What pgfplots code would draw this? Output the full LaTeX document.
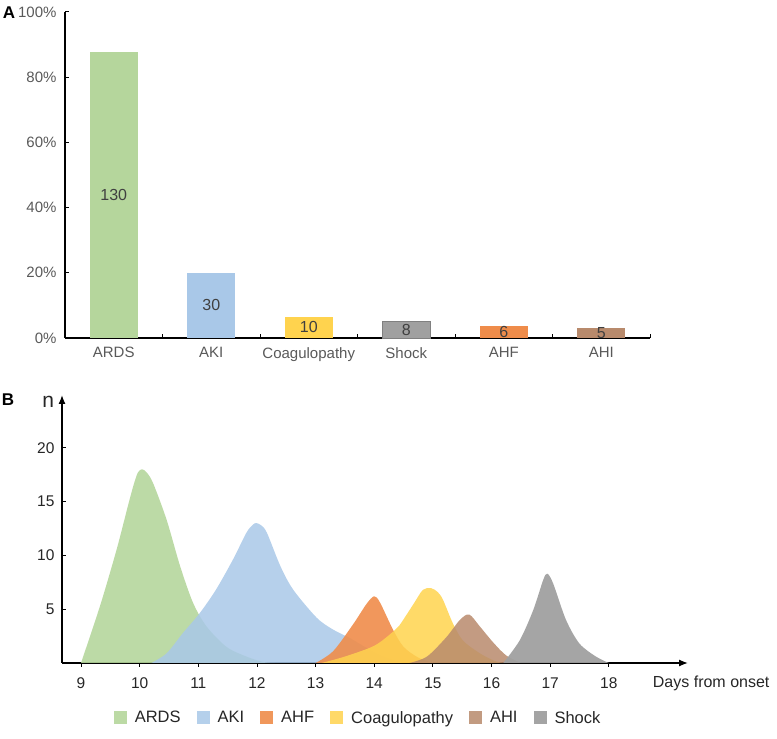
\documentclass[border=0pt]{standalone}
\usepackage{fontspec}
\setmainfont{Liberation Sans}
\usepackage{pgfplots}
\pgfplotsset{compat=1.18}
\usepackage{pgfplotstable}
\usetikzlibrary{arrows.meta}
\definecolor{cgreen}{HTML}{B5D69C}
\definecolor{cblue}{HTML}{A9C8E8}
\definecolor{cyellow}{HTML}{FFD34E}
\definecolor{cgray}{HTML}{A0A0A0}
\definecolor{corange}{HTML}{EF8C4A}
\definecolor{cbrown}{HTML}{B88A6C}
\definecolor{txtA}{HTML}{595959}
\definecolor{txtB}{HTML}{262626}

\pgfplotstableread{
x p n
0 87.7 130
1 20.0 30
2 6.5 10
3 5.1 8
4 3.8 6
5 3.1 5
}\barsA

\begin{document}
\begin{tikzpicture}
\useasboundingbox (0,0) rectangle (777bp,739bp);
% Panel A
\begin{axis}[
  at={(65bp,401bp)}, anchor=south west, scale only axis,
  width=585bp, height=326bp,
  xmin=-0.5, xmax=5.5, ymin=0, ymax=100,
  axis lines*=left,
  axis line style={line width=1.3bp, black},
  xtick={0,...,5},
  xticklabels={ARDS,AKI,Coagulopathy,Shock,AHF,AHI},
  major x tick style={draw=none},
  minor xtick={0.5,1.5,...,5.5},
  minor tick length=4bp,
  minor x tick style={line width=1bp, black},
  ytick={0,20,...,100},
  major tick length=4bp,
  ytick style={line width=1bp, black},
  yticklabel={\pgfmathprintnumber{\tick}\%},
  /pgf/number format/assume math mode=true,
  tick label style={font=\fontsize{15bp}{17bp}\selectfont, text=txtA},
  xticklabel style={yshift=-6bp},
  yticklabel style={xshift=-5bp},
  clip=false,
]
\addplot[ybar, bar width=48bp, bar shift=0pt, draw=none, fill=cgreen] coordinates {(0,87.7)};
\addplot[ybar, bar width=48bp, bar shift=0pt, draw=none, fill=cblue] coordinates {(1,20.0)};
\addplot[ybar, bar width=48bp, bar shift=0pt, draw=none, fill=cyellow] coordinates {(2,6.5)};
\addplot[ybar, bar width=48bp, bar shift=0pt, draw=cgray!80!black, fill=cgray] coordinates {(3,5.1)};
\addplot[ybar, bar width=48bp, bar shift=0pt, draw=none, fill=corange] coordinates {(4,3.8)};
\addplot[ybar, bar width=48bp, bar shift=0pt, draw=none, fill=cbrown] coordinates {(5,3.1)};
\addplot[draw=none, mark=none, nodes near coords, point meta=explicit symbolic,
  nodes near coords style={anchor=center, font=\fontsize{16bp}{18bp}\selectfont, text=black!75}]
  table[x=x, y expr=\thisrow{p}/2, meta=n] {\barsA};
\end{axis}

% Panel B
\begin{axis}[
  at={(62bp,76bp)}, anchor=south west, scale only axis,
  width=626bp, height=268bp,
  xmin=8.676, xmax=19.35, ymin=0, ymax=24.9,
  axis lines=left,
  axis line style={line width=1.3bp, black, -{Latex[length=9bp,width=7bp]}},
  xtick={9,...,18}, ytick={5,10,15,20},
  tick align=outside,
  major tick length=4bp,
  tick style={line width=0.8bp, black},
  ytick style={xshift=4bp},
  /pgf/number format/assume math mode=true,
  tick label style={font=\fontsize{15.5bp}{17bp}\selectfont, text=txtB},
  xticklabel style={yshift=-7bp},
  xlabel={Days from onset},
  xlabel style={at={(axis description cs:1.037,-0.075)}, anchor=center, font=\fontsize{16bp}{18bp}\selectfont, text=txtB},
  ylabel={n},
  ylabel style={at={(axis description cs:-0.022,0.974)}, rotate=-90, anchor=center, font=\fontsize{21bp}{23bp}\selectfont, text=txtB},
  legend columns=6,
  legend style={at={(axis description cs:0.473,-0.205)}, anchor=center, draw=none,
    font=\fontsize{16.5bp}{18bp}\selectfont, text=txtB,
    /tikz/every odd column/.append style={column sep=6bp},
    /tikz/every even column/.append style={column sep=14bp}},
  legend image code/.code={\fill[#1] (0bp,-6.5bp) rectangle (13bp,6.5bp);},
  clip=false,
]
\addplot[fill=cgreen, draw=none, fill opacity=0.9, smooth, tension=0.5] coordinates {
(9,0) (9.33,5.4) (9.61,10.6) (9.8,14.6) (9.9,16.6) (9.97,17.7) (10.04,18) (10.12,17.7) (10.23,16.7) (10.46,13.3) (10.69,9) (10.91,5.6) (11.14,3.4) (11.48,1.5) (11.82,0.6) (12.1,0.1) (12.3,0)} \closedcycle;
\addlegendentry{ARDS}
\addplot[fill=cblue, draw=none, fill opacity=0.85, smooth, tension=0.5] coordinates {
(10.2,0) (10.46,0.9) (10.74,2.8) (11.02,4.6) (11.3,6.8) (11.59,9.6) (11.82,12.1) (11.93,12.85) (11.99,13) (12.07,12.8) (12.17,12.1) (12.4,9) (12.62,6.8) (13.02,4.2) (13.3,3.1) (13.59,2.3) (13.9,1.3) (14.2,0.5) (14.5,0)} \closedcycle;
\addlegendentry{AKI}
\addplot[fill=corange, draw=none, fill opacity=0.9, smooth, tension=0.5] coordinates {
(13.0,0) (13.3,1.1) (13.64,3.6) (13.87,5.5) (14.0,6.2) (14.1,5.6) (14.32,3.1) (14.5,1.5) (14.75,0.5) (15.0,0)} \closedcycle;
\addlegendentry{AHF}
\addplot[fill=cyellow, draw=none, fill opacity=0.85, smooth, tension=0.5] coordinates {
(13.1,0) (13.5,0.6) (14.0,1.6) (14.32,2.9) (14.43,3.5) (14.66,5.4) (14.83,6.8) (14.97,6.95) (15.08,6.6) (15.17,5.9) (15.34,3.7) (15.51,2.1) (15.8,0.9) (16.05,0.2) (16.2,0)} \closedcycle;
\addlegendentry{Coagulopathy}
\addplot[fill=cbrown, draw=none, fill opacity=0.85, smooth, tension=0.5] coordinates {
(14.6,0) (14.9,0.6) (15.23,2.4) (15.46,4) (15.62,4.5) (15.8,3.4) (16.03,1.9) (16.25,0.7) (16.5,0)} \closedcycle;
\addlegendentry{AHI}
\addplot[fill=cgray, draw=none, fill opacity=0.95, smooth, tension=0.5] coordinates {
(16.2,0) (16.48,2.1) (16.71,4.9) (16.88,7.7) (16.95,8.3) (17.05,7.4) (17.27,4) (17.5,1.8) (17.78,0.6) (18.0,0)} \closedcycle;
\addlegendentry{Shock}
\end{axis}

\node[font=\bfseries\fontsize{17bp}{19bp}\selectfont] at (9bp,726bp) {A};
\node[font=\bfseries\fontsize{17bp}{19bp}\selectfont] at (8bp,339bp) {B};
\end{tikzpicture}
\end{document}
